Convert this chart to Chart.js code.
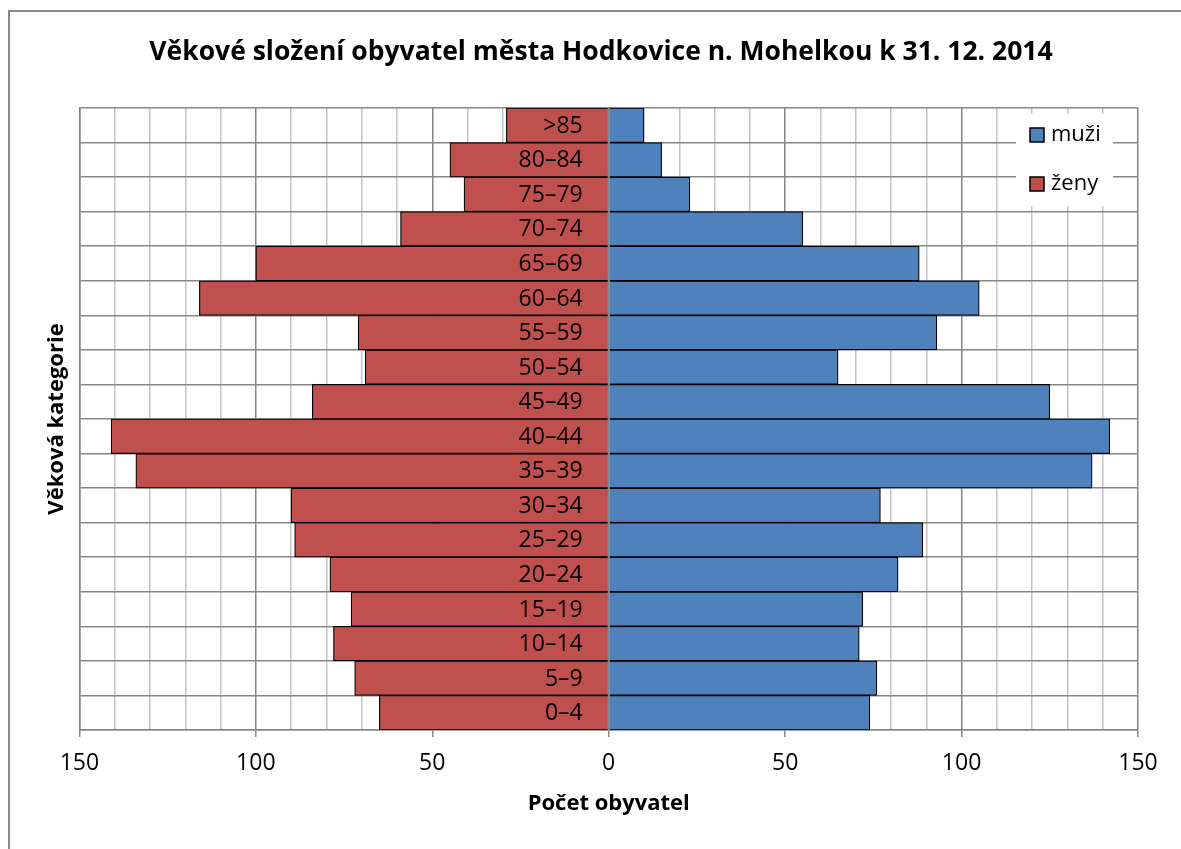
<!DOCTYPE html>
<html>
<head>
<meta charset="utf-8">
<script src="https://cdn.jsdelivr.net/npm/chart.js@4"></script>
<style>
  body { margin: 0; background: #fff; }
  #wrap { position: relative; width: 1181px; height: 849px; }
  #frame { position: absolute; left: 8px; top: 10px; right: -10px; bottom: -10px;
           border-left: 2px solid #888; border-top: 2px solid #888; }
  canvas { position: absolute; left: 0; top: 0; }
</style>
</head>
<body>
<div id="wrap">
  <div id="frame"></div>
  <canvas id="myChart" width="1181" height="849"></canvas>
</div>
<script>
const ageGroups = ["0–4", "5–9", "10–14", "15–19", "20–24", "25–29", "30–34", "35–39", "40–44",
  "45–49", "50–54", "55–59", "60–64", "65–69", "70–74", "75–79", "80–84", ">85"];
const men = [74, 76, 71, 72, 82, 89, 77, 137, 142, 125, 65, 93, 105, 88, 55, 23, 15, 10];
const women = [65, 72, 78, 73, 79, 89, 90, 134, 141, 84, 69, 71, 116, 100, 59, 41, 45, 29];
const xTicks = [-150, -100, -50, 0, 50, 100, 150];
const chartTitle = "Věkové složení obyvatel města Hodkovice n. Mohelkou k 31. 12. 2014";

const FONT = "'Open Sans', sans-serif";
const majorGrid = "#868686";
const minorGrid = "#c4c4c4";

// title, drawn a bit right of canvas centre like the original
const topTitle = {
  id: "topTitle",
  afterDraw(chart) {
    const c = chart.ctx;
    c.save();
    c.fillStyle = "#000";
    c.font = "bold 26.5px " + FONT;
    c.textAlign = "center";
    c.textBaseline = "middle";
    c.fillText(chartTitle, 601, 52);
    c.restore();
  },
};

// category labels sit next to the zero line, on top of the bars
const centerLabels = {
  id: "centerLabels",
  afterDatasetsDraw(chart) {
    const c = chart.ctx;
    const xs = chart.scales.x;
    const ys = chart.scales.y;
    const x0 = xs.getPixelForValue(0);
    c.save();
    c.strokeStyle = majorGrid;
    c.lineWidth = 2;
    c.beginPath();
    c.moveTo(x0, chart.chartArea.top);
    c.lineTo(x0, chart.chartArea.bottom);
    c.stroke();
    c.fillStyle = "#000";
    c.font = "23px " + FONT;
    c.textAlign = "right";
    c.textBaseline = "middle";
    chart.data.labels.forEach((lab, i) => {
      c.fillText(lab, x0 - 26, ys.getPixelForValue(i) + 1);
    });
    c.restore();
  },
};

// legend box drawn inside the plot area (top right)
const innerLegend = {
  id: "innerLegend",
  afterDraw(chart) {
    const c = chart.ctx;
    c.save();
    c.fillStyle = "#fff";
    c.fillRect(1016, 114, 97, 92);
    chart.data.datasets.forEach((ds, i) => {
      const y = 135 + i * 49;
      c.fillStyle = ds.backgroundColor;
      c.fillRect(1030, y - 7, 14, 14);
      c.strokeStyle = "#000";
      c.lineWidth = 1.5;
      c.strokeRect(1030, y - 7, 14, 14);
      c.fillStyle = "#000";
      c.font = "22px " + FONT;
      c.textBaseline = "middle";
      c.fillText(ds.label, 1051, y);
    });
    c.restore();
  },
};

const ctx = document.getElementById("myChart");

new Chart(ctx, {
  type: "bar",
  data: {
    labels: ageGroups,
    datasets: [
      {
        label: "muži",
        data: men,
        backgroundColor: "#4F81BD",
        borderColor: "#000",
        borderWidth: 1.2,
        barPercentage: 1,
        categoryPercentage: 1,
      },
      {
        label: "ženy",
        data: women.map((v) => -v),
        backgroundColor: "#C0504D",
        borderColor: "#000",
        borderWidth: 1.2,
        barPercentage: 1,
        categoryPercentage: 1,
      },
    ],
  },
  options: {
    indexAxis: "y",
    responsive: false,
    animation: false,
    layout: { padding: { left: 44, right: 43, top: 108, bottom: 22 } },
    plugins: {
      legend: { display: false },
      tooltip: { enabled: false },
      title: { display: false },
    },
    scales: {
      x: {
        stacked: true,
        min: -150,
        max: 150,
        ticks: {
          stepSize: 10,
          autoSkip: false,
          maxRotation: 0,
          padding: 13,
          color: "#000",
          font: { family: FONT, size: 23 },
          callback: (v) => (xTicks.includes(v) ? Math.abs(v) : ""),
        },
        grid: {
          color: (c) => (c.tick && c.tick.value % 50 === 0 ? majorGrid : minorGrid),
          tickColor: (c) => (c.tick && c.tick.value % 50 === 0 ? majorGrid : "rgba(0,0,0,0)"),
          tickLength: 7,
          lineWidth: 1.5,
        },
        border: { color: majorGrid, width: 1.5 },
        title: {
          display: true,
          text: "Počet obyvatel",
          color: "#000",
          font: { family: FONT, size: 22, weight: "bold" },
          padding: { top: 0, bottom: 10 },
        },
      },
      y: {
        stacked: true,
        reverse: true,
        offset: true,
        ticks: { display: false },
        grid: { color: majorGrid, lineWidth: 1.5, offset: true, drawTicks: false },
        border: { color: majorGrid, width: 1.5 },
        title: {
          display: true,
          text: "Věková kategorie",
          color: "#000",
          font: { family: FONT, size: 22, weight: "bold" },
          padding: { top: 0, bottom: 9 },
        },
      },
    },
  },
  plugins: [topTitle, centerLabels, innerLegend],
});
</script>
</body>
</html>
